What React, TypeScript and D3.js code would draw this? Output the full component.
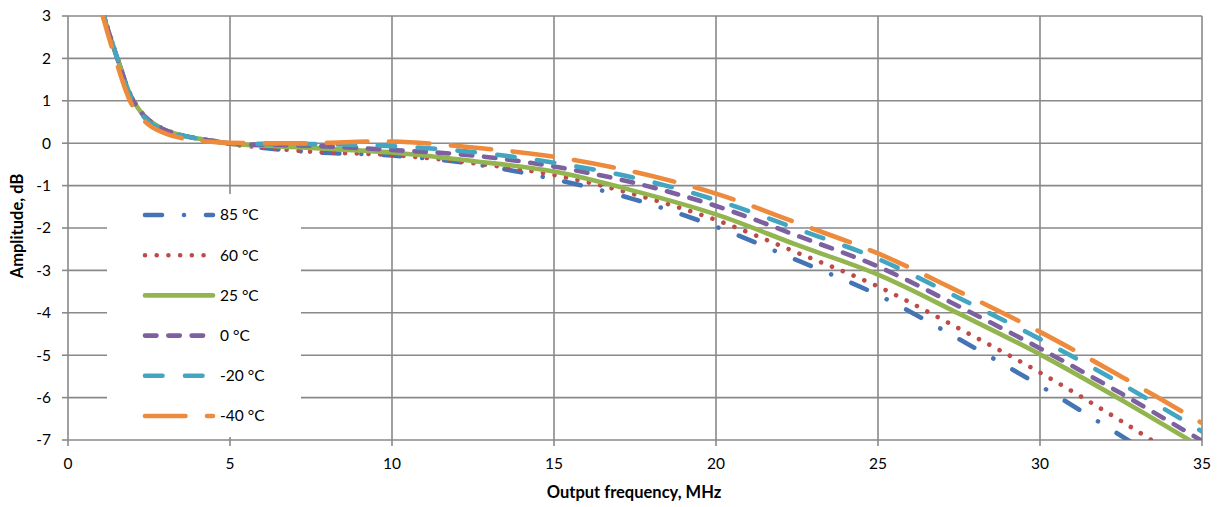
import React from 'react';
import * as d3 from 'd3';

const freq = [1, 1.5, 2, 2.5, 3, 3.5, 4, 4.5, 5, 7.5, 10, 12.5, 15, 17.5, 20, 22.5, 25, 27.5, 30, 32.5, 35];

const seriesNames = ['85 °C', '60 °C', '25 °C', '0 °C', '-20 °C', '-40 °C'];

const amp85 = [3.27, 2.07, 1.03, 0.54, 0.31, 0.19, 0.11, 0.05, -0.02, -0.21, -0.29, -0.49, -0.85, -1.33, -1.97, -2.76, -3.58, -4.62, -5.72, -6.9, -8.1];
const amp60 = [3.28, 2.08, 1.04, 0.55, 0.32, 0.19, 0.11, 0.05, -0.02, -0.2, -0.28, -0.47, -0.75, -1.21, -1.81, -2.58, -3.38, -4.37, -5.41, -6.55, -7.76];
const amp25 = [3.25, 2.05, 1.02, 0.53, 0.31, 0.19, 0.11, 0.05, -0.01, -0.11, -0.22, -0.42, -0.67, -1.13, -1.68, -2.4, -3.1, -4.02, -4.98, -6.05, -7.18];
const amp0 = [3.25, 2.05, 1.02, 0.53, 0.31, 0.19, 0.11, 0.05, -0.01, -0.06, -0.16, -0.29, -0.55, -0.94, -1.48, -2.18, -2.91, -3.85, -4.84, -5.9, -7.02];
const ampM20 = [3.25, 2.05, 0.99, 0.5, 0.29, 0.18, 0.11, 0.05, 0.0, -0.02, -0.07, -0.21, -0.46, -0.82, -1.34, -2.02, -2.73, -3.65, -4.62, -5.67, -6.8];
const ampM40 = [3.2, 1.9, 0.87, 0.43, 0.23, 0.12, 0.06, 0.03, 0.01, 0.0, 0.04, -0.1, -0.32, -0.68, -1.19, -1.88, -2.6, -3.5, -4.45, -5.5, -6.6];

const xTicks = [0, 5, 10, 15, 20, 25, 30, 35];
const yTicks = [3, 2, 1, 0, -1, -2, -3, -4, -5, -6, -7];

const xTitle = 'Output frequency, MHz';
const yTitle = 'Amplitude, dB';

const allSeries = [amp85, amp60, amp25, amp0, ampM20, ampM40];

const colors = ['#4474B6', '#BE4B48', '#92B550', '#7D60A0', '#43A5C0', '#EE8A3C'];
const dashes = ['17,22,0.01,22', '0.01,11.7', 'none', '11.5,11.8', '17.5,22.5', '40.5,21.5'];

const FONT = 'Lato, "Open Sans", sans-serif';
const GRID = '#898989';

export default function App() {
  const W = 1227;
  const H = 507;
  const x = d3.scaleLinear().domain([0, 35]).range([68, 1202]);
  const y = d3.scaleLinear().domain([-7, 3]).range([440, 16]);
  const line = d3
    .line<[number, number]>()
    .x((d) => x(d[0]))
    .y((d) => y(d[1]))
    .curve(d3.curveCatmullRom.alpha(0.5));

  const legendRow = d3.scaleLinear().domain([0, 5]).range([215, 416]);

  return (
    <svg
      width={W}
      height={H}
      style={{ position: 'absolute', left: 0, top: 0, background: '#fff' }}
      fontFamily={FONT}
    >
      <defs>
        <clipPath id="plotClip">
          <rect x={x(0)} y={y(3) - 1} width={x(35) - x(0)} height={y(-7) - y(3) + 1} />
        </clipPath>
      </defs>
      <rect x={0} y={0} width={W} height={H} fill="#fff" />
      {xTicks.filter((t) => t !== 0).map((t) => (
        <line key={'gx' + t} x1={x(t)} x2={x(t)} y1={y(3)} y2={y(-7)} stroke={GRID} strokeWidth={1.6} />
      ))}
      {yTicks.filter((t) => t !== -7).map((t) => (
        <line key={'gy' + t} x1={x(0)} x2={x(35)} y1={y(t)} y2={y(t)} stroke={GRID} strokeWidth={1.6} />
      ))}
      <line x1={x(0)} x2={x(0)} y1={y(3)} y2={y(-7)} stroke={GRID} strokeWidth={1.6} />
      <line x1={x(0)} x2={x(35)} y1={y(-7)} y2={y(-7)} stroke={GRID} strokeWidth={1.6} />
      {yTicks.map((t) => (
        <g key={'ty' + t}>
          <line x1={x(0) - 6} x2={x(0)} y1={y(t)} y2={y(t)} stroke={GRID} strokeWidth={1.6} />
          <text x={x(0) - 17} y={y(t)} dy="0.35em" textAnchor="end" fontSize={15.5} fill="#000">
            {t}
          </text>
        </g>
      ))}
      {xTicks.map((t) => (
        <g key={'tx' + t}>
          <line x1={x(t)} x2={x(t)} y1={y(-7)} y2={y(-7) + 6} stroke={GRID} strokeWidth={1.6} />
          <text x={x(t)} y={y(-7) + 29} textAnchor="middle" fontSize={15.5} fill="#000">
            {t}
          </text>
        </g>
      ))}
      <rect x={107} y={194} width={194} height={243} fill="#fff" />
      <g clipPath="url(#plotClip)">
        {allSeries.map((s, i) => (
          <path
            key={'s' + i}
            d={line(freq.map((f, j) => [f, s[j]] as [number, number])) || ''}
            fill="none"
            stroke={colors[i]}
            strokeWidth={4.6}
            strokeLinecap="round"
            strokeLinejoin="round"
            strokeDasharray={dashes[i]}
          />
        ))}
      </g>
      {seriesNames.map((n, i) => (
        <g key={'lg' + i}>
          <line
            x1={145}
            x2={213}
            y1={legendRow(i)}
            y2={legendRow(i)}
            stroke={colors[i]}
            strokeWidth={4.6}
            strokeLinecap="round"
            strokeDasharray={dashes[i]}
          />
          <text x={220} y={legendRow(i)} dy="0.35em" fontSize={15.5} fill="#000">
            {n}
          </text>
        </g>
      ))}
      <text x={634} y={498} textAnchor="middle" fontSize={16.5} fontWeight="bold" fill="#000">
        {xTitle}
      </text>
      <text
        transform={`translate(23,${226}) rotate(-90)`}
        textAnchor="middle"
        fontSize={16.5}
        fontWeight="bold"
        fill="#000"
      >
        {yTitle}
      </text>
    </svg>
  );
}
